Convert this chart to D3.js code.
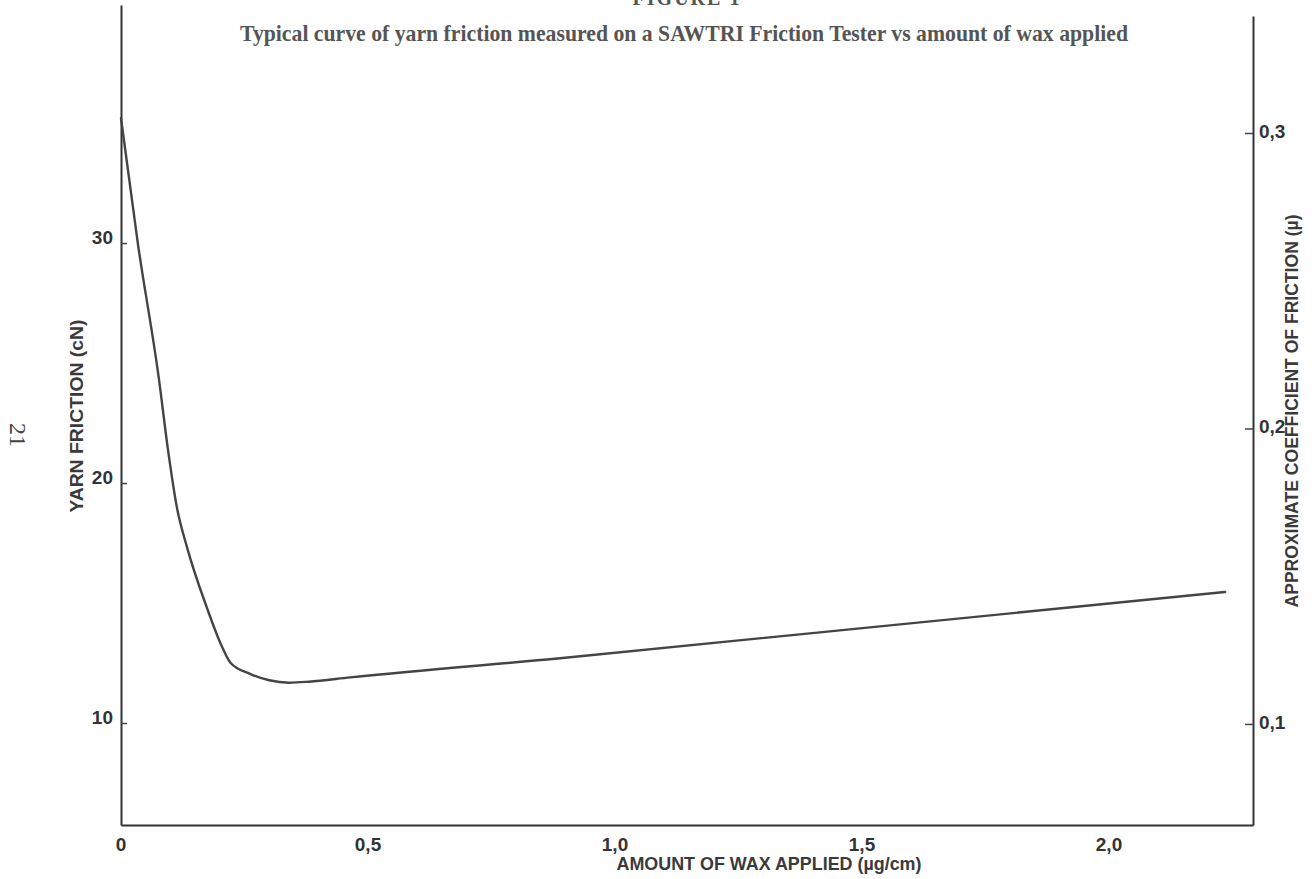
<!DOCTYPE html>
<html>
<head>
<meta charset="utf-8">
<script src="https://cdn.jsdelivr.net/npm/d3@7"></script>
<style>
    body { margin: 0; background: #fff; }
    svg { display: block; }
    .tick-lbl { font-family: "Liberation Sans", Arial, sans-serif; font-weight: bold; font-size: 19px; fill: #333; }
    .axis-title { font-family: "Liberation Sans", Arial, sans-serif; font-weight: bold; font-size: 18px; fill: #3a3a3a; }
</style>
</head>
<body>
<div id="chart"></div>
<script>
// curve: wax applied (ug/cm) vs yarn friction (cN)
const waxApplied = [0, 0.034, 0.077, 0.095, 0.113, 0.134, 0.174, 0.204, 0.222, 0.261, 0.30, 0.34, 0.38, 0.464, 0.889, 2.235];
const yarnFriction = [35.2, 30.0, 24.3, 21.4, 19.0, 17.3, 14.8, 13.2, 12.5, 12.05, 11.78, 11.68, 11.72, 11.9, 12.7, 15.46];

const xTicks = [0, 0.5, 1.0, 1.5, 2.0];
const xTickLabels = ["0", "0,5", "1,0", "1,5", "2,0"];
const leftTicks = [10, 20, 30];
const rightTicks = [0.1, 0.2, 0.3];
const rightTickLabels = ["0,1", "0,2", "0,3"];

const title = "Typical curve of yarn friction measured on a SAWTRI Friction Tester vs amount of wax applied";

const width = 1316, height = 879;
const left = 121, right = 1253, bottom = 825;

const svg = d3.select("#chart").append("svg")
    .attr("width", width)
    .attr("height", height);

// scales (left axis: cN, right axis: mu, bottom: wax)
const x = d3.scaleLinear().domain([0, (right - left) / 494]).range([left, right]);
const y = d3.scaleLinear().domain([5.75, 39.92]).range([bottom, 5]);
const yR = d3.scaleLinear().domain([0.0658, 0.3396]).range([bottom, 16]);

// left axis, ticks point inward
const gL = svg.append("g")
    .attr("transform", `translate(${left},0)`)
    .call(d3.axisRight(y).tickValues(leftTicks).tickSize(6).tickSizeOuter(0).tickFormat(""));
gL.select(".domain").attr("stroke", "#333").attr("stroke-width", 2);
gL.selectAll(".tick line").attr("stroke", "#444").attr("stroke-width", 1.5);

gL.selectAll(".lbl").data(leftTicks).enter().append("text")
    .attr("class", "tick-lbl")
    .attr("x", -8)
    .attr("y", d => y(d) - 6)
    .attr("text-anchor", "end")
    .attr("dy", "0.35em")
    .text(d => d);

// right axis, ticks point inward
const gR = svg.append("g")
    .attr("transform", `translate(${right},0)`)
    .call(d3.axisLeft(yR).tickValues(rightTicks).tickSize(8).tickSizeOuter(0).tickFormat(""));
gR.select(".domain").attr("stroke", "#333").attr("stroke-width", 2);
gR.selectAll(".tick line").attr("stroke", "#444").attr("stroke-width", 1.5);

gR.selectAll(".lbl").data(rightTicks).enter().append("text")
    .attr("class", "tick-lbl")
    .attr("x", 6)
    .attr("y", d => yR(d) - 2)
    .attr("text-anchor", "start")
    .attr("dy", "0.35em")
    .text((d, i) => rightTickLabels[i]);

// bottom axis (no tick marks, just labels)
const gB = svg.append("g")
    .attr("transform", `translate(0,${bottom})`)
    .call(d3.axisBottom(x).tickValues(xTicks).tickSize(0).tickSizeOuter(0).tickFormat(""));
gB.select(".domain").attr("stroke", "#333").attr("stroke-width", 2);

gB.selectAll(".lbl").data(xTicks).enter().append("text")
    .attr("class", "tick-lbl")
    .attr("x", d => x(d))
    .attr("y", 19)
    .attr("text-anchor", "middle")
    .attr("dy", "0.35em")
    .text((d, i) => xTickLabels[i]);

// the friction curve
const pts = waxApplied.map((w, i) => [w, yarnFriction[i]]);
const line = d3.line()
    .x(d => x(d[0]))
    .y(d => y(d[1]))
    .curve(d3.curveMonotoneX);

svg.append("path")
    .datum(pts)
    .attr("d", line)
    .attr("fill", "none")
    .attr("stroke", "#444")
    .attr("stroke-width", 2.4)
    .attr("stroke-linejoin", "round")
    .attr("stroke-linecap", "round");

// titles
svg.append("text")
    .attr("x", 684)
    .attr("y", 41)
    .attr("text-anchor", "middle")
    .attr("textLength", 888)
    .attr("lengthAdjust", "spacingAndGlyphs")
    .style("font-family", "'Liberation Serif', 'Times New Roman', serif")
    .style("font-weight", "bold")
    .style("font-size", "23px")
    .attr("fill", "#555")
    .text(title);

// cut-off figure heading at the very top
svg.append("text")
    .attr("x", 687)
    .attr("y", 5)
    .attr("text-anchor", "middle")
    .style("font-family", "'Liberation Serif', 'Times New Roman', serif")
    .style("font-weight", "bold")
    .style("font-size", "20px")
    .style("letter-spacing", "2px")
    .attr("fill", "#555")
    .text("FIGURE 1");

svg.append("text")
    .attr("class", "axis-title")
    .attr("x", 769)
    .attr("y", 870)
    .attr("text-anchor", "middle")
    .attr("textLength", 305)
    .attr("lengthAdjust", "spacingAndGlyphs")
    .text("AMOUNT OF WAX APPLIED (µg/cm)");

svg.append("text")
    .attr("class", "axis-title")
    .attr("transform", "translate(83,416) rotate(-90)")
    .attr("text-anchor", "middle")
    .attr("textLength", 193)
    .attr("lengthAdjust", "spacingAndGlyphs")
    .text("YARN FRICTION (cN)");

svg.append("text")
    .attr("class", "axis-title")
    .attr("transform", "translate(1298,411) rotate(-90)")
    .attr("text-anchor", "middle")
    .attr("textLength", 393)
    .attr("lengthAdjust", "spacingAndGlyphs")
    .text("APPROXIMATE COEFFICIENT OF FRICTION (µ)");

// page number printed sideways in the margin
svg.append("text")
    .attr("transform", "translate(10,435) rotate(90)")
    .attr("text-anchor", "middle")
    .style("font-family", "'Liberation Serif', 'Times New Roman', serif")
    .style("font-size", "24px")
    .attr("fill", "#444")
    .text("21");
</script>
</body>
</html>
